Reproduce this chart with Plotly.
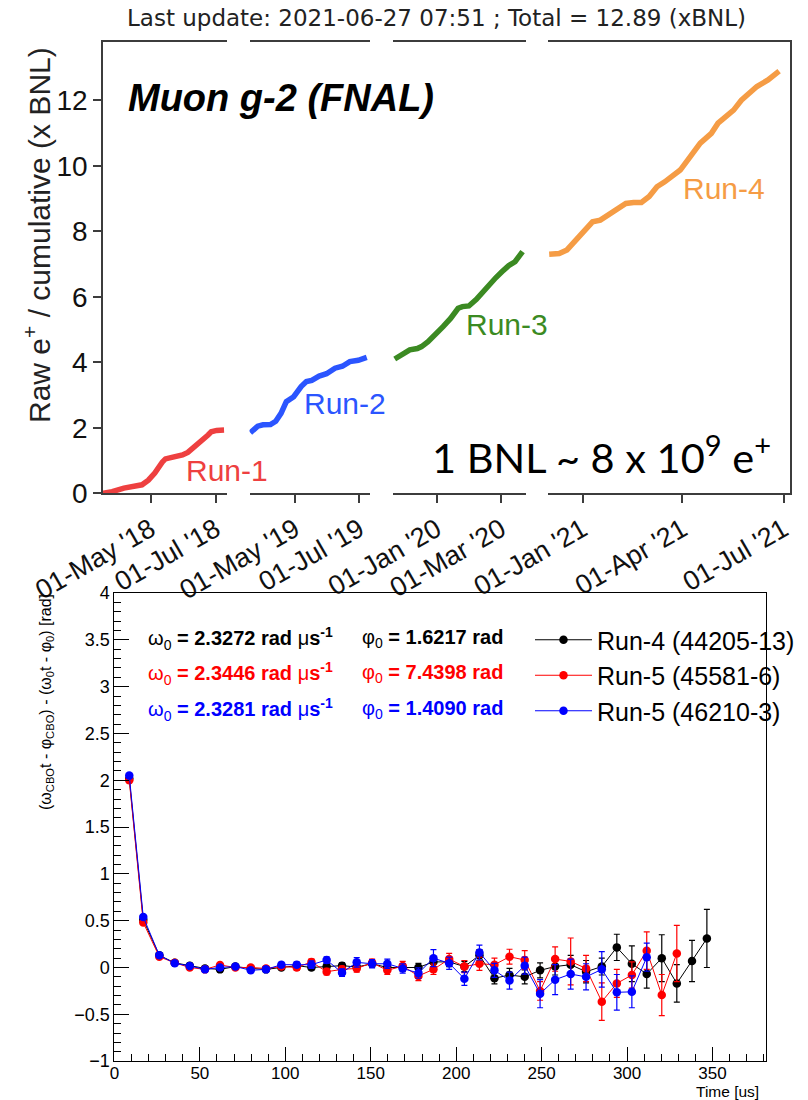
import plotly.graph_objects as go

# ---------------- data: top panel (cumulative raw e+) ----------------
run1_dates = ['2018-03-17', '2018-03-26', '2018-04-06', '2018-04-16', '2018-04-23', '2018-04-29',
              '2018-05-05', '2018-05-12', '2018-05-15', '2018-05-19', '2018-05-27', '2018-05-31',
              '2018-06-05', '2018-06-10', '2018-06-14', '2018-06-20', '2018-06-24', '2018-06-27',
              '2018-07-02', '2018-07-09']
run1_vals = [0.0, 0.05, 0.16, 0.20, 0.26, 0.40, 0.62, 0.95, 1.05, 1.08, 1.12, 1.17, 1.25, 1.38,
             1.50, 1.63, 1.78, 1.88, 1.92, 1.93]

run2_dates = ['2019-03-20', '2019-03-27', '2019-04-01', '2019-04-08', '2019-04-13', '2019-04-18',
              '2019-04-23', '2019-04-30', '2019-05-07', '2019-05-12', '2019-05-17', '2019-05-24',
              '2019-05-31', '2019-06-08', '2019-06-15', '2019-06-22', '2019-06-30', '2019-07-08']
run2_vals = [1.85, 2.05, 2.09, 2.10, 2.20, 2.44, 2.80, 2.95, 3.26, 3.41, 3.45, 3.58, 3.65, 3.82,
             3.88, 4.02, 4.06, 4.15]

run3_dates = ['2019-11-23', '2019-11-30', '2019-12-07', '2019-12-14', '2019-12-18', '2019-12-24',
              '2019-12-31', '2020-01-07', '2020-01-14', '2020-01-21', '2020-01-25', '2020-01-31',
              '2020-02-07', '2020-02-12', '2020-02-19', '2020-02-25', '2020-03-02', '2020-03-08',
              '2020-03-14', '2020-03-21']
run3_vals = [4.10, 4.22, 4.38, 4.42, 4.48, 4.63, 4.89, 5.09, 5.34, 5.65, 5.70, 5.72, 5.92, 6.12,
             6.36, 6.58, 6.77, 6.95, 7.07, 7.38]

run4_dates = ['2020-12-02', '2020-12-11', '2020-12-18', '2020-12-25', '2021-01-01', '2021-01-10',
              '2021-01-17', '2021-01-22', '2021-01-26', '2021-02-02', '2021-02-09', '2021-02-16',
              '2021-02-23', '2021-03-02', '2021-03-09', '2021-03-16', '2021-03-23', '2021-03-30',
              '2021-04-08', '2021-04-17', '2021-04-27', '2021-05-03', '2021-05-10', '2021-05-17',
              '2021-05-24', '2021-05-31', '2021-06-07', '2021-06-17', '2021-06-24', '2021-06-27']
run4_vals = [7.30, 7.32, 7.43, 7.68, 7.94, 8.29, 8.34, 8.45, 8.50, 8.70, 8.85, 8.88, 8.88, 9.06,
             9.36, 9.51, 9.67, 9.87, 10.28, 10.69, 10.99, 11.30, 11.50, 11.70, 12.00, 12.20,
             12.42, 12.62, 12.80, 12.89]

seg_ranges = [['2018-03-17 10:00', '2018-07-11 14:00'],
              ['2019-03-19 05:00', '2019-07-11 02:00'],
              ['2019-11-21 05:00', '2020-03-24 00:00'],
              ['2020-11-30 22:00', '2021-07-06 19:00']]
seg_tickvals = [['2018-05-01', '2018-07-01'], ['2019-05-01', '2019-07-01'],
                ['2020-01-01', '2020-03-01'], ['2021-01-01', '2021-04-01', '2021-07-01']]
seg_ticktext = [["01-May '18", "01-Jul '18"], ["01-May '19", "01-Jul '19"],
                ["01-Jan '20", "01-Mar '20"], ["01-Jan '21", "01-Apr '21", "01-Jul '21"]]
top_yticks = [0, 2, 4, 6, 8, 10, 12]

# ---------------- data: bottom panel (CBO phase) ----------------
times = [8.7, 16.9, 26.3, 35.3, 44.1, 53.0, 61.8, 70.8, 79.8, 88.7, 97.7, 106.7, 115.3, 124.2,
         133.2, 141.8, 150.8, 159.7, 168.7, 177.9, 186.7, 195.9, 204.8, 213.6, 222.4, 231.2,
         240.1, 249.1, 257.9, 267.0, 276.0, 285.2, 294.0, 302.8, 311.5, 320.3, 329.1, 338.0, 346.7]

run4_phase = [2.02, 0.51, 0.13, 0.05, 0.02, -0.01, -0.02, 0.01, -0.01, -0.02, 0.00, 0.02, 0.00,
              0.01, 0.02, 0.005, 0.04, 0.00, 0.00, 0.00, 0.06, 0.06, 0.01, 0.13, -0.115, -0.08,
              -0.10, -0.03, 0.01, 0.03, -0.045, 0.01, 0.215, 0.04, -0.07, 0.10, -0.17, 0.07, 0.31]
run4_err = [0.01, 0.01, 0.01, 0.01, 0.01, 0.015, 0.015, 0.02, 0.02, 0.02, 0.02, 0.025, 0.025,
            0.03, 0.03, 0.03, 0.035, 0.04, 0.04, 0.045, 0.05, 0.05, 0.055, 0.06, 0.06, 0.07,
            0.075, 0.08, 0.09, 0.10, 0.12, 0.09, 0.14, 0.19, 0.15, 0.25, 0.20, 0.22, 0.31]

run5a_phase = [2.00, 0.48, 0.115, 0.05, 0.00, -0.02, 0.027, 0.00, 0.00, -0.01, 0.01, 0.00, 0.06,
               -0.045, -0.02, -0.01, 0.05, -0.03, 0.015, -0.09, -0.02, 0.09, 0.01, 0.04, 0.03,
               0.115, 0.08, -0.25, 0.09, 0.065, -0.01, -0.365, -0.17, -0.08, 0.18, -0.295, 0.15]
run5a_err = [0.01, 0.01, 0.01, 0.01, 0.015, 0.015, 0.02, 0.02, 0.02, 0.025, 0.025, 0.03, 0.03,
             0.035, 0.035, 0.04, 0.04, 0.045, 0.05, 0.05, 0.055, 0.06, 0.065, 0.07, 0.07, 0.08,
             0.10, 0.10, 0.13, 0.25, 0.14, 0.20, 0.15, 0.14, 0.20, 0.22, 0.30]

run5b_phase = [2.05, 0.54, 0.13, 0.045, 0.016, -0.02, 0.00, 0.01, -0.03, -0.02, 0.03, 0.03, 0.03,
               0.08, -0.055, 0.055, 0.04, 0.04, -0.01, -0.06, 0.10, 0.045, -0.12, 0.16, -0.03,
               -0.14, 0.02, -0.28, -0.13, -0.07, -0.10, -0.02, -0.265, -0.26, 0.11]
run5b_err = [0.01, 0.01, 0.01, 0.01, 0.015, 0.015, 0.02, 0.02, 0.02, 0.025, 0.025, 0.03, 0.04,
             0.035, 0.04, 0.05, 0.045, 0.05, 0.05, 0.055, 0.09, 0.065, 0.07, 0.08, 0.075, 0.09,
             0.09, 0.15, 0.16, 0.16, 0.14, 0.19, 0.19, 0.17, 0.15]

series_names = ['Run-4 (44205-13)', 'Run-5 (45581-6)', 'Run-5 (46210-3)']
omega0 = ['2.3272', '2.3446', '2.3281']
phi0 = ['1.6217', '7.4398', '1.4090']

# ---------------- layout helpers ----------------
W, H = 808, 1100


def fx(x):
    return x / W


def fy(y):
    return 1 - y / H


FONT = "Liberation Sans, Arial, Helvetica, sans-serif"
AXC = "#3c3c3c"
RUN_COLORS = ['#ee4040', '#2b55ff', '#3b8a22', '#f59c45']
SER_COLORS = ['#000000', '#ff0000', '#0000ff']

fig = go.Figure()

seg_dom = [(103, 226.8), (249.5, 370), (392.8, 525.8), (548, 790)]
run_dates = [run1_dates, run2_dates, run3_dates, run4_dates]
run_vals = [run1_vals, run2_vals, run3_vals, run4_vals]

for i in range(4):
    xa = 'x' if i == 0 else 'x%d' % (i + 1)
    ya = 'y3' if i == 3 else 'y'
    fig.add_trace(go.Scatter(x=run_dates[i], y=run_vals[i], mode='lines', xaxis=xa, yaxis=ya,
                             line=dict(color=RUN_COLORS[i], width=5.5), showlegend=False,
                             hoverinfo='skip'))
    key = 'xaxis' if i == 0 else 'xaxis%d' % (i + 1)
    fig.layout[key] = dict(
        domain=[fx(seg_dom[i][0]), fx(seg_dom[i][1])], anchor='y', type='date', automargin=False,
        range=seg_ranges[i], tickmode='array', tickvals=seg_tickvals[i], ticktext=seg_ticktext[i],
        tickangle=-30, ticks='outside', ticklen=8, tickcolor=AXC, tickwidth=1.5,
        showline=True, linecolor=AXC, linewidth=1.5, mirror=True, showgrid=False, zeroline=False,
        tickfont=dict(family=FONT, size=27, color='#111'))

top_dom = [fy(493.3), fy(42.3)]
fig.update_layout(
    yaxis=dict(domain=top_dom, anchor='x', range=[0, 13.77], tickmode='array', tickvals=top_yticks,
               ticks='outside', ticklen=8, tickcolor=AXC, tickwidth=1.5, showline=True,
               linecolor=AXC, linewidth=1.5, showgrid=False, zeroline=False, automargin=False,
               tickfont=dict(family=FONT, size=28, color='#111')),
    yaxis2=dict(overlaying='y', matches='y', anchor='free', position=fx(800), side='right',
                tickmode='array', tickvals=top_yticks, ticks='outside', ticklen=8, tickcolor='#999',
                showticklabels=False, showline=False, showgrid=False, zeroline=False,
                automargin=False),
    yaxis3=dict(overlaying='y', matches='y', anchor='x4', side='right', showline=True,
                linecolor=AXC, linewidth=1.5, ticks='', showticklabels=False, showgrid=False,
                zeroline=False, automargin=False),
)

# ---------------- bottom panel ----------------
phase = [run4_phase, run5a_phase, run5b_phase]
errs = [run4_err, run5a_err, run5b_err]
for i in range(3):
    n = len(phase[i])
    fig.add_trace(go.Scatter(
        x=times[:n], y=phase[i], mode='lines+markers', xaxis='x5', yaxis='y5', name=series_names[i],
        line=dict(color=SER_COLORS[i], width=1), marker=dict(color=SER_COLORS[i], size=8.5),
        error_y=dict(type='data', array=errs[i], color=SER_COLORS[i], thickness=1.2, width=3),
        hoverinfo='skip'))

fig.update_layout(
    xaxis5=dict(domain=[fx(114.4), fx(765.5)], anchor='y5', range=[0, 381], dtick=50, tick0=0,
                ticks='inside', ticklen=14, tickcolor='black', showline=True, linecolor='black',
                linewidth=1, mirror=True, showgrid=False, zeroline=False, automargin=False,
                ticklabelstandoff=-4,
                minor=dict(dtick=10, ticks='inside', ticklen=7, tickcolor='black'),
                tickfont=dict(family=FONT, size=17, color='black')),
    yaxis5=dict(domain=[fy(1061.1), fy(593.1)], anchor='x5', range=[-1, 4], dtick=0.5, tick0=0,
                ticks='inside', ticklen=15, tickcolor='black', showline=True, linecolor='black',
                linewidth=1, mirror=True, showgrid=False, zeroline=False, automargin=False,
                minor=dict(dtick=0.1, ticks='inside', ticklen=7, tickcolor='black'),
                tickfont=dict(family=FONT, size=18, color='black')),
)

ann = []
ann.append(dict(text="Last update: 2021-06-27 07:51 ; Total = 12.89 (xBNL)", x=fx(436), y=fy(18),
                xref='paper', yref='paper', showarrow=False, xanchor='center', yanchor='middle',
                font=dict(family="DejaVu Sans, sans-serif", size=23, color='#222')))
ann.append(dict(text="<b><i>Muon g-2 (FNAL)</i></b>", x=fx(126), y=fy(98), xref='paper',
                yref='paper', showarrow=False, xanchor='left', yanchor='middle',
                font=dict(family=FONT, size=38, color='black')))
run_lab = [("Run-1", 227, 470), ("Run-2", 344.5, 403), ("Run-3", 507.5, 325), ("Run-4", 723.5, 188)]
for i, (t, x, y) in enumerate(run_lab):
    ann.append(dict(text=t, x=fx(x), y=fy(y), xref='paper', yref='paper', showarrow=False,
                    xanchor='center', yanchor='middle',
                    font=dict(family=FONT, size=30, color=RUN_COLORS[i])))
ann.append(dict(text="1 BNL ~ 8 x 10<sup>9</sup> e<sup>+</sup>", x=fx(430), y=fy(455),
                xref='paper', yref='paper', showarrow=False, xanchor='left', yanchor='middle',
                font=dict(family="Lato, sans-serif", size=41.5, color='black')))
ann.append(dict(text="Raw e<sup>+</sup> / cumulative (x BNL)", x=fx(37), y=fy(235), xref='paper',
                yref='paper', showarrow=False, textangle=-90, xanchor='center', yanchor='middle',
                font=dict(family=FONT, size=30, color='#222')))

# bottom panel text
ann.append(dict(text="(ω<sub>CBO</sub>t - φ<sub>CBO</sub>) - (ω<sub>0</sub>t - φ<sub>0</sub>) [rad]",
                x=fx(46), y=fy(592), xref='paper', yref='paper', showarrow=False, textangle=-90,
                xanchor='center', yanchor='top', font=dict(family=FONT, size=16, color='black')))
ann.append(dict(text="Time [us]", x=fx(761), y=fy(1091.5), xref='paper', yref='paper',
                showarrow=False, xanchor='right', yanchor='middle',
                font=dict(family=FONT, size=15.5, color='black')))
rows_y = [638, 673, 709]
for i in range(3):
    ann.append(dict(text="ω<sub>0</sub> <b>= %s rad</b> μ<b>s<sup>-1</sup></b>" % omega0[i],
                    x=fx(146), y=fy(rows_y[i]), xref='paper', yref='paper', showarrow=False,
                    xanchor='left', yanchor='middle',
                    font=dict(family=FONT, size=20, color=SER_COLORS[i])))
    ann.append(dict(text="φ<sub>0</sub> <b>= %s rad</b>" % phi0[i],
                    x=fx(360), y=fy(rows_y[i]), xref='paper', yref='paper', showarrow=False,
                    xanchor='left', yanchor='middle',
                    font=dict(family=FONT, size=20, color=SER_COLORS[i])))

fig.update_layout(
    template='none',
    annotations=ann,
    width=W, height=H, margin=dict(l=0, r=0, t=0, b=0, pad=0, autoexpand=False),
    paper_bgcolor='white', plot_bgcolor='white',
    legend=dict(x=fx(530), y=fy(617), xanchor='left', yanchor='top', bgcolor='rgba(0,0,0,0)',
                font=dict(family=FONT, size=25, color='black'), itemwidth=57,
                tracegroupgap=0),
)

fig.write_html("out.html")
